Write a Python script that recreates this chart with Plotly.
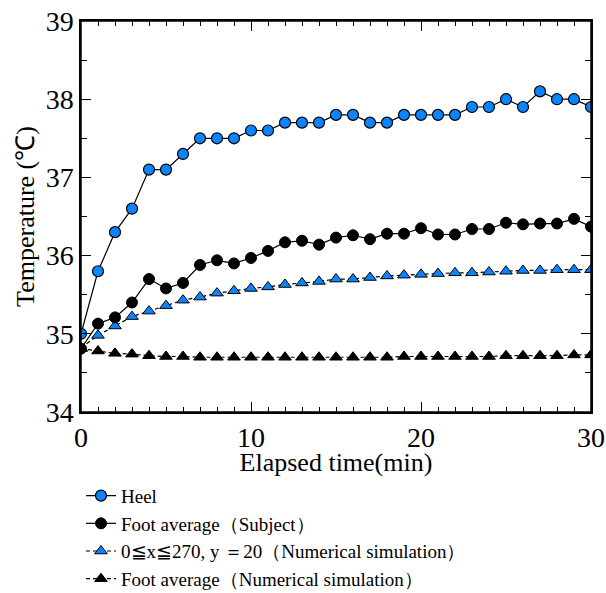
import plotly.graph_objects as go

time_min = list(range(0, 31))

heel = [35.0, 35.8, 36.3, 36.6, 37.1, 37.1, 37.3, 37.5, 37.5, 37.5, 37.6,
        37.6, 37.7, 37.7, 37.7, 37.8, 37.8, 37.7, 37.7, 37.8, 37.8, 37.8,
        37.8, 37.9, 37.9, 38.0, 37.9, 38.1, 38.0, 38.0, 37.9]

foot_avg_subject = [34.81, 35.13, 35.21, 35.40, 35.70, 35.58, 35.65, 35.88, 35.94, 35.90, 35.97,
                    36.06, 36.17, 36.19, 36.14, 36.23, 36.26, 36.21, 36.28, 36.28, 36.35,
                    36.27, 36.27, 36.34, 36.34, 36.42, 36.40, 36.41, 36.41, 36.47, 36.37]

sim_line = [34.82, 34.98, 35.10, 35.22, 35.29, 35.36, 35.43, 35.47, 35.52, 35.55, 35.58,
            35.60, 35.63, 35.65, 35.67, 35.70, 35.70, 35.72, 35.74, 35.75, 35.76,
            35.77, 35.78, 35.78, 35.79, 35.80, 35.81, 35.81, 35.82, 35.82, 35.82]

sim_foot_avg = [34.81, 34.78, 34.75, 34.74, 34.72, 34.71, 34.71, 34.70, 34.70, 34.70, 34.70,
                34.70, 34.70, 34.70, 34.70, 34.70, 34.70, 34.70, 34.70, 34.71, 34.71,
                34.71, 34.71, 34.71, 34.71, 34.72, 34.72, 34.72, 34.72, 34.73, 34.73]

x_range = [0, 30]
y_range = [34, 39]

names = ["Heel",
         "Foot average\uff08Subject\uff09",
         "0\u2266x\u2266270, y \uff1d20\uff08Numerical simulation\uff09",
         "Foot average\uff08Numerical simulation\uff09"]

BLUE = "#0a84ff"
FONT = "Liberation Serif"

fig = go.Figure()
fig.add_trace(go.Scatter(x=time_min, y=sim_foot_avg, name=names[3], mode="lines+markers",
                         line=dict(color="black", width=1.2, dash="4px,3px"),
                         marker=dict(symbol="triangle-up", size=11, color="black",
                                     line=dict(color="black", width=1))))
fig.add_trace(go.Scatter(x=time_min, y=sim_line, name=names[2], mode="lines+markers",
                         line=dict(color="black", width=1.2, dash="4px,3px"),
                         marker=dict(symbol="triangle-up", size=11, color=BLUE,
                                     line=dict(color="black", width=1))))
fig.add_trace(go.Scatter(x=time_min, y=foot_avg_subject, name=names[1], mode="lines+markers",
                         line=dict(color="black", width=1.2),
                         marker=dict(symbol="circle", size=11, color="black",
                                     line=dict(color="black", width=1))))
fig.add_trace(go.Scatter(x=time_min, y=heel, name=names[0], mode="lines+markers",
                         line=dict(color="black", width=1.2),
                         marker=dict(symbol="circle", size=11, color=BLUE,
                                     line=dict(color="black", width=1.2))))

base = dict(showline=True, linecolor="black", linewidth=1.5, mirror="allticks",
            ticks="inside", ticklen=10, tickcolor="black", tickwidth=1.2,
            showgrid=False, zeroline=False, automargin=False)
tickfont = dict(family=FONT, size=28, color="black")
titlefont = dict(family=FONT, size=26, color="black")
xminor = dict(dtick=1, ticks="inside", ticklen=5, tickcolor="black", tickwidth=1.2)
yminor = dict(dtick=0.5, ticks="inside", ticklen=6, tickcolor="black", tickwidth=1.2)

fig.update_layout(
    xaxis=dict(range=x_range, dtick=10, tick0=0, tickangle=0, minor=xminor,
               tickfont=tickfont, ticklabeloverflow="allow",
               title=dict(text="Elapsed time(min)", font=titlefont, standoff=14), **base),
    yaxis=dict(range=y_range, dtick=1, tick0=34, minor=yminor,
               tickfont=tickfont, ticklabeloverflow="allow",
               title=dict(text="Temperature (\u2103)", font=titlefont, standoff=4), **base),
    shapes=[dict(type="rect", xref="paper", yref="paper", x0=0, x1=1, y0=0, y1=1,
                 line=dict(color="black", width=1.5), fillcolor="rgba(0,0,0,0)",
                 layer="above")],
)

fig.update_layout(
    width=606, height=593,
    margin=dict(l=81, r=15, t=21, b=181),
    plot_bgcolor="white", paper_bgcolor="white",
    font=dict(family=FONT, color="black"),
    showlegend=True,
    legend=dict(xref="paper", yref="container", x=0.0, y=0.196,
                xanchor="left", yanchor="top",
                traceorder="reversed", font=dict(family=FONT, size=19, color="black"),
                bgcolor="rgba(0,0,0,0)", tracegroupgap=0, itemwidth=30),
)

fig.write_html("out.html", config=dict(displayModeBar=False),
               post_script="document.body.style.margin='0px';"
                           "document.body.style.overflow='hidden';")
